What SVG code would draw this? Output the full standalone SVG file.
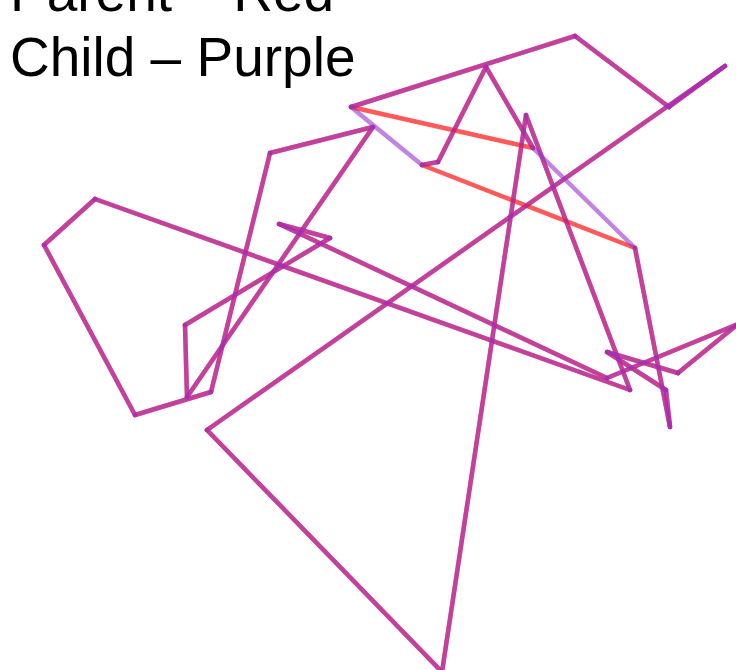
<svg xmlns="http://www.w3.org/2000/svg" width="736" height="670" viewBox="0 0 736 670">
<style>
.t{font-family:"Liberation Sans",Arial,sans-serif;font-size:55px;fill:#000}
.p line{stroke:#ff0000;stroke-opacity:0.65;stroke-width:4.5;stroke-linecap:round}
.c line{stroke:#9932cc;stroke-opacity:0.6;stroke-width:4.5;stroke-linecap:round}
</style>
<rect width="736" height="670" fill="#fff"/>
<text class="t" x="10" y="11">Parent – Red</text>
<text class="t" x="10" y="76">Child – Purple</text>
<g id="parent" class="p">
<line x1="351" y1="107" x2="575" y2="36"/>
<line x1="575" y1="36" x2="669" y2="107"/>
<line x1="669" y1="107" x2="725" y2="66"/>
<line x1="725" y1="66" x2="207" y2="430"/>
<line x1="207" y1="430" x2="442" y2="672"/>
<line x1="442" y1="672" x2="526" y2="115"/>
<line x1="526" y1="115" x2="630" y2="390"/>
<line x1="630" y1="390" x2="95" y2="199"/>
<line x1="95" y1="199" x2="44" y2="245"/>
<line x1="44" y1="245" x2="135" y2="415"/>
<line x1="135" y1="415" x2="211" y2="392"/>
<line x1="211" y1="392" x2="270" y2="153"/>
<line x1="270" y1="153" x2="373" y2="127"/>
<line x1="373" y1="127" x2="187" y2="397"/>
<line x1="187" y1="397" x2="185" y2="325"/>
<line x1="185" y1="325" x2="330" y2="238"/>
<line x1="330" y1="238" x2="279" y2="224"/>
<line x1="279" y1="224" x2="607" y2="378"/>
<line x1="607" y1="378" x2="738" y2="324"/>
<line x1="738" y1="324" x2="678" y2="373"/>
<line x1="678" y1="373" x2="607" y2="352"/>
<line x1="607" y1="352" x2="666" y2="390"/>
<line x1="666" y1="390" x2="670" y2="427"/>
<line x1="670" y1="427" x2="635" y2="248"/>
<line x1="635" y1="248" x2="422" y2="165"/>
<line x1="422" y1="165" x2="438" y2="162"/>
<line x1="438" y1="162" x2="486" y2="67"/>
<line x1="486" y1="67" x2="533" y2="148"/>
<line x1="533" y1="148" x2="351" y2="107"/>
</g>
<g id="child" class="c">
<line x1="351" y1="107" x2="575" y2="36"/>
<line x1="575" y1="36" x2="669" y2="107"/>
<line x1="669" y1="107" x2="725" y2="66"/>
<line x1="725" y1="66" x2="207" y2="430"/>
<line x1="207" y1="430" x2="442" y2="672"/>
<line x1="442" y1="672" x2="526" y2="115"/>
<line x1="526" y1="115" x2="630" y2="390"/>
<line x1="630" y1="390" x2="95" y2="199"/>
<line x1="95" y1="199" x2="44" y2="245"/>
<line x1="44" y1="245" x2="135" y2="415"/>
<line x1="135" y1="415" x2="211" y2="392"/>
<line x1="211" y1="392" x2="270" y2="153"/>
<line x1="270" y1="153" x2="373" y2="127"/>
<line x1="373" y1="127" x2="187" y2="397"/>
<line x1="187" y1="397" x2="185" y2="325"/>
<line x1="185" y1="325" x2="330" y2="238"/>
<line x1="330" y1="238" x2="279" y2="224"/>
<line x1="279" y1="224" x2="607" y2="378"/>
<line x1="607" y1="378" x2="738" y2="324"/>
<line x1="738" y1="324" x2="678" y2="373"/>
<line x1="678" y1="373" x2="607" y2="352"/>
<line x1="607" y1="352" x2="666" y2="390"/>
<line x1="666" y1="390" x2="670" y2="427"/>
<line x1="670" y1="427" x2="635" y2="248"/>
<line x1="635" y1="248" x2="533" y2="148"/>
<line x1="533" y1="148" x2="486" y2="67"/>
<line x1="486" y1="67" x2="438" y2="162"/>
<line x1="438" y1="162" x2="422" y2="165"/>
<line x1="422" y1="165" x2="351" y2="107"/>
</g>
</svg>
